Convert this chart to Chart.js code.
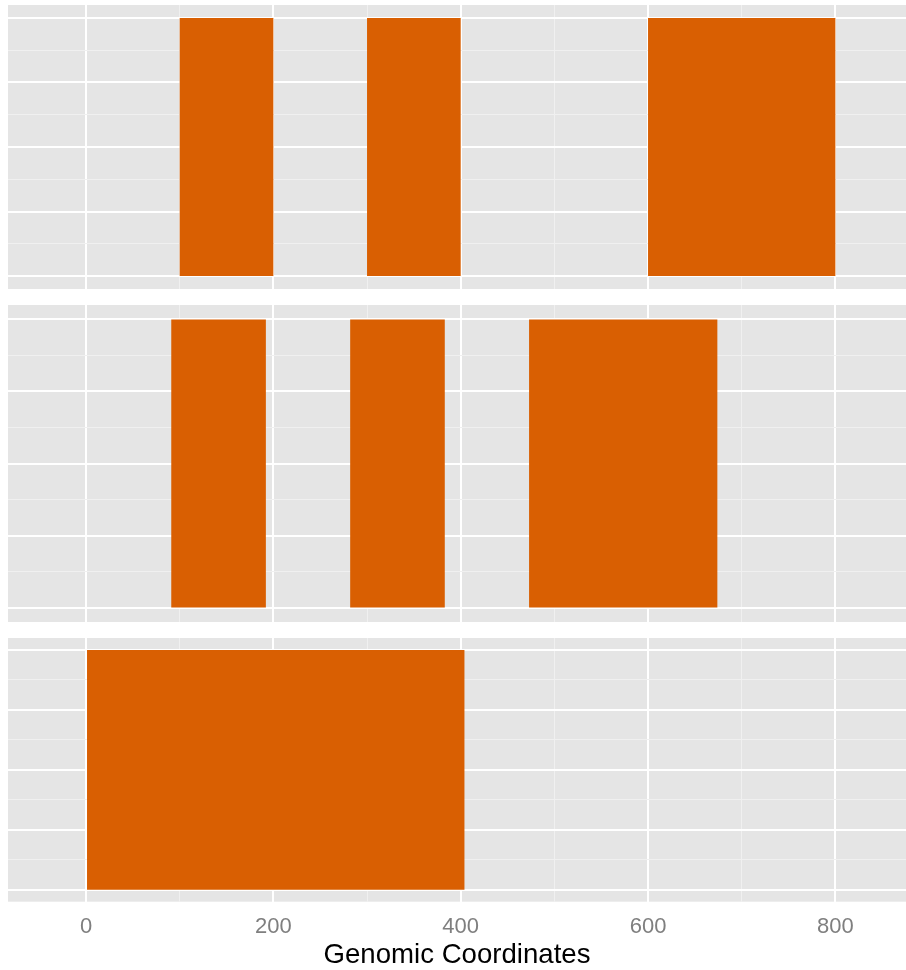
<!DOCTYPE html>
<html>
<head>
<meta charset="utf-8">
<script src="https://cdn.jsdelivr.net/npm/chart.js@4"></script>
<style>
  html, body { margin: 0; padding: 0; background: #fff; }
  body { width: 906px; height: 970px; position: relative; overflow: hidden; }
  .track { position: absolute; left: 8px; width: 898px; }
</style>
</head>
<body>
<div class="track" style="top:5px;height:284px"><canvas id="track1"></canvas></div>
<div class="track" style="top:305px;height:317px"><canvas id="track2"></canvas></div>
<div class="track" style="top:638px;height:332px"><canvas id="track3"></canvas></div>
<script>
// grid positions along the genome, labels only on the majors
const xTicks = [0, 100, 200, 300, 400, 500, 600, 700, 800];
const xLabels = [0, 200, 400, 600, 800];
const yTicks = [0, 0.125, 0.25, 0.375, 0.5, 0.625, 0.75, 0.875, 1];

// feature blocks per track (start / end)
const track1Start = [100, 300, 600];
const track1End = [200, 400, 800];
const track2Start = [91, 282, 473];
const track2End = [192, 383, 674];
const track3Start = [0];
const track3End = [404];

const xMin = -83.3, xMax = 875.4;
const fillColor = '#d95f02';

const panelBg = {
  id: 'panelBg',
  beforeDraw(chart) {
    const a = chart.chartArea;
    const ctx = chart.ctx;
    ctx.save();
    ctx.fillStyle = '#e5e5e5';
    ctx.fillRect(a.left, a.top, a.right - a.left, a.bottom - a.top);
    ctx.restore();
  }
};

function isMajor(ctx, step) {
  if (!ctx.tick) return true;
  const v = ctx.tick.value;
  return Math.abs(v / step - Math.round(v / step)) < 1e-6;
}

function makeTrack(id, starts, ends, showAxis) {
  const datasets = starts.map((s, i) => ({
    data: [[s, ends[i]]],
    backgroundColor: fillColor,
    borderWidth: 0,
    grouped: false,
    categoryPercentage: 1,
    barPercentage: 1 / 1.1,
    yAxisID: 'y'
  }));

  return new Chart(document.getElementById(id), {
    type: 'bar',
    data: { labels: ['track'], datasets: datasets },
    plugins: [panelBg],
    options: {
      indexAxis: 'y',
      responsive: true,
      maintainAspectRatio: false,
      animation: false,
      layout: { padding: 0 },
      plugins: { legend: { display: false }, tooltip: { enabled: false } },
      scales: {
        x: {
          type: 'linear',
          min: xMin,
          max: xMax,
          afterBuildTicks: (axis) => { axis.ticks = xTicks.map(v => ({ value: v })); },
          afterFit: (axis) => { axis.height = showAxis ? 68.3 : 0; },
          grid: {
            drawTicks: false,
            color: (ctx) => isMajor(ctx, 200) ? '#ffffff' : '#f0f0f0',
            lineWidth: (ctx) => isMajor(ctx, 200) ? 2 : 1
          },
          border: { display: false },
          ticks: {
            display: showAxis,
            autoSkip: false,
            maxRotation: 0,
            padding: 12,
            color: '#7f7f7f',
            font: { family: 'Liberation Sans', size: 22 },
            callback: (v) => xLabels.includes(v) ? String(v) : ''
          },
          title: {
            display: showAxis,
            text: 'Genomic Coordinates',
            color: '#000000',
            font: { family: 'Liberation Sans', size: 27.6, lineHeight: 1.0 },
            padding: { top: 0, bottom: 1 }
          }
        },
        y: { type: 'category', display: false, offset: true },
        // the bars sit on the category axis; this one only carries the grid
        yg: {
          type: 'linear',
          position: 'left',
          min: -0.05,
          max: 1.05,
          offset: false,
          afterBuildTicks: (axis) => { axis.ticks = yTicks.map(v => ({ value: v })); },
          afterFit: (axis) => { axis.width = 0; },
          grid: {
            offset: false,
            drawTicks: false,
            color: (ctx) => isMajor(ctx, 0.25) ? '#ffffff' : '#f0f0f0',
            lineWidth: (ctx) => isMajor(ctx, 0.25) ? 2 : 1
          },
          border: { display: false },
          ticks: { display: false }
        }
      }
    }
  });
}

makeTrack('track1', track1Start, track1End, false);
makeTrack('track2', track2Start, track2End, false);
makeTrack('track3', track3Start, track3End, true);
</script>
</body>
</html>
